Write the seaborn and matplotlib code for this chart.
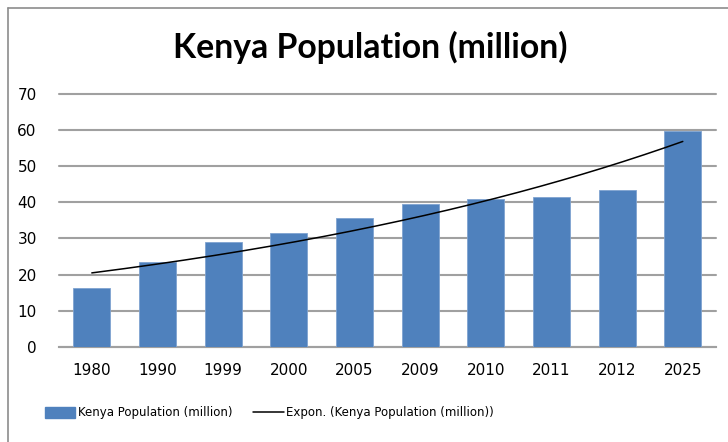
import numpy as np
import pandas as pd
import seaborn as sns
import matplotlib
matplotlib.use("Agg")
import matplotlib.pyplot as plt
from matplotlib.lines import Line2D
from matplotlib.patches import Patch

# Kenya population by year, in millions
years = ["1980", "1990", "1999", "2000", "2005", "2009", "2010", "2011", "2012", "2025"]
population = [16.2, 23.4, 28.9, 31.4, 35.7, 39.4, 40.8, 41.6, 43.3, 59.7]

series_name = "Kenya Population (million)"
trend_name = "Expon. (Kenya Population (million))"
title = "Kenya Population (million)"

bar_color = "#4F81BD"
grid_color = "#A0A0A0"

sns.set_theme(style="white")
plt.rcParams["font.family"] = ["DejaVu Sans"]
plt.rcParams["text.color"] = "black"

df = pd.DataFrame({"year": years, "population": population})

fig = plt.figure(figsize=(7.28, 4.42), dpi=100)
ax = fig.add_axes([0.081, 0.2156, 0.902, 0.5717])

sns.barplot(data=df, x="year", y="population", color=bar_color, width=0.56,
            saturation=1, edgecolor="#7FA3D0", linewidth=0.6, ax=ax, zorder=3)

# Exponential trendline, fitted the way a spreadsheet does: ln(y) = a + b*x, x = 1..n
xi = np.arange(1, len(population) + 1)
b, a = np.polyfit(xi, np.log(population), 1)
xs = np.linspace(1, len(population), 200)
ax.plot(xs - 1, np.exp(a + b * xs), color="black", lw=1.1, zorder=4)

ax.set_xlim(-0.5, len(years) - 0.5)
ax.set_ylim(0, 70)
ax.set_yticks(range(0, 71, 10))
ax.yaxis.grid(True, color=grid_color, lw=1.5, zorder=0)
for gl in ax.get_ygridlines():
    gl.set_clip_on(False)
ax.set_axisbelow(True)
ax.set_xlabel("")
ax.set_ylabel("")
for s in ["left", "right", "top"]:
    ax.spines[s].set_visible(False)
ax.spines["bottom"].set_color(grid_color)
ax.spines["bottom"].set_linewidth(1.5)
ax.tick_params(axis="both", length=0, labelsize=11, colors="black")
ax.tick_params(axis="x", pad=12)
ax.tick_params(axis="y", pad=16)

fig.text(0.508, 0.893, title, ha="center", va="center", color="black",
         fontsize=24.3, fontweight="bold", family="Lato")

handles = [Patch(facecolor=bar_color, edgecolor=bar_color),
           Line2D([0], [0], color="black", lw=1.1)]
leg = fig.legend(handles, [series_name, trend_name], loc="center", ncol=2,
                 bbox_to_anchor=(0.37, 0.066), frameon=False, fontsize=8.5,
                 handlelength=2.6, handleheight=1.0, handletextpad=0.2,
                 columnspacing=1.8, labelcolor="black")

# Chart frame along the top and left edges
fig.add_artist(Line2D([8 / 728, 1.0], [1 - 8 / 442] * 2, transform=fig.transFigure,
                      color="#8C8C8C", lw=1.2))
fig.add_artist(Line2D([8 / 728] * 2, [0.0, 1 - 8 / 442], transform=fig.transFigure,
                      color="#8C8C8C", lw=1.2))

fig.savefig("out.png", dpi=100)
